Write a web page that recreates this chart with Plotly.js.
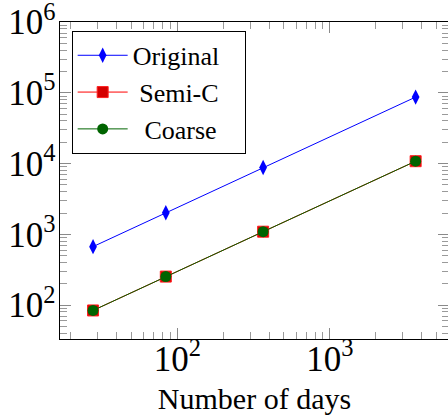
<!DOCTYPE html>
<html>
<head>
<meta charset="utf-8">
<script src="https://cdn.plot.ly/plotly-3.0.1.min.js"></script>
<style>
html, body { margin: 0; padding: 0; overflow: hidden; background: #fff; }
#chart { width: 450px; height: 415px; }
</style>
</head>
<body>
<div id="chart"></div>
<script>
// Data
const days = [28, 84, 365, 3650];
const original = [670, 2020, 8800, 87000];
const semiC = [84, 253, 1090, 10800];
const coarse = [84, 253, 1090, 10800];
const seriesNames = ['Original\u00a0\u00a0\u00a0', '\u00a0Semi-C', '\u00a0\u2009Coarse'];
const xTitle = 'Number of days';

const serif = 'Liberation Serif, Times New Roman, serif';

const traces = [
  {
    x: days, y: original, name: seriesNames[0],
    mode: 'lines+markers', type: 'scatter',
    line: { color: '#0000ff', width: 1 },
    marker: { symbol: 'diamond-tall', size: 11, color: '#0000ff', line: { width: 0 } }
  },
  {
    x: days, y: semiC, name: seriesNames[1],
    mode: 'lines+markers', type: 'scatter',
    line: { color: '#ff0000', width: 1 },
    marker: { symbol: 'square', size: 11, color: '#d40000', line: { color: '#ff2020', width: 1 } }
  },
  {
    x: days, y: coarse, name: seriesNames[2],
    mode: 'lines+markers', type: 'scatter',
    line: { color: '#006400', width: 1 },
    marker: { symbol: 'circle', size: 11, color: '#006400', line: { width: 0 } }
  }
];

const axisCommon = {
  type: 'log',
  dtick: 1,
  exponentformat: 'power',
  showgrid: false,
  zeroline: false,
  showline: true,
  linecolor: '#000',
  linewidth: 1,
  mirror: 'allticks',
  ticks: 'inside',
  ticklen: 11,
  tickwidth: 1,
  tickcolor: '#8a8a8a',
  ticklabeloverflow: 'allow',
  tickfont: { family: serif, size: 28, color: '#000' },
  minor: { ticks: 'inside', dtick: 'D1', ticklen: 7, tickwidth: 1, tickcolor: '#9a9a9a', showgrid: false }
};

const layout = {
  width: 450,
  height: 415,
  margin: { l: 60, r: 1, t: 22, b: 76 },
  paper_bgcolor: '#fff',
  plot_bgcolor: '#fff',
  showlegend: true,
  font: { family: serif, color: '#000' },
  xaxis: Object.assign({}, axisCommon, {
    range: [1.2305, 3.781],
    ticklabelstandoff: -10,
    title: { text: xTitle, font: { family: serif, size: 30, color: '#000' }, standoff: 18 }
  }),
  yaxis: Object.assign({}, axisCommon, {
    range: [1.521, 6.0005],
    ticklabelstandoff: -2
  }),
  legend: {
    x: 0.030, y: 0.972, xanchor: 'left', yanchor: 'top',
    bordercolor: '#000', borderwidth: 1, bgcolor: '#fff',
    font: { family: serif, size: 26, color: '#000' },
    itemwidth: 50,
    traceorder: 'normal'
  }
};

Plotly.newPlot('chart', traces, layout, { displayModeBar: false, staticPlot: true });
</script>
</body>
</html>
